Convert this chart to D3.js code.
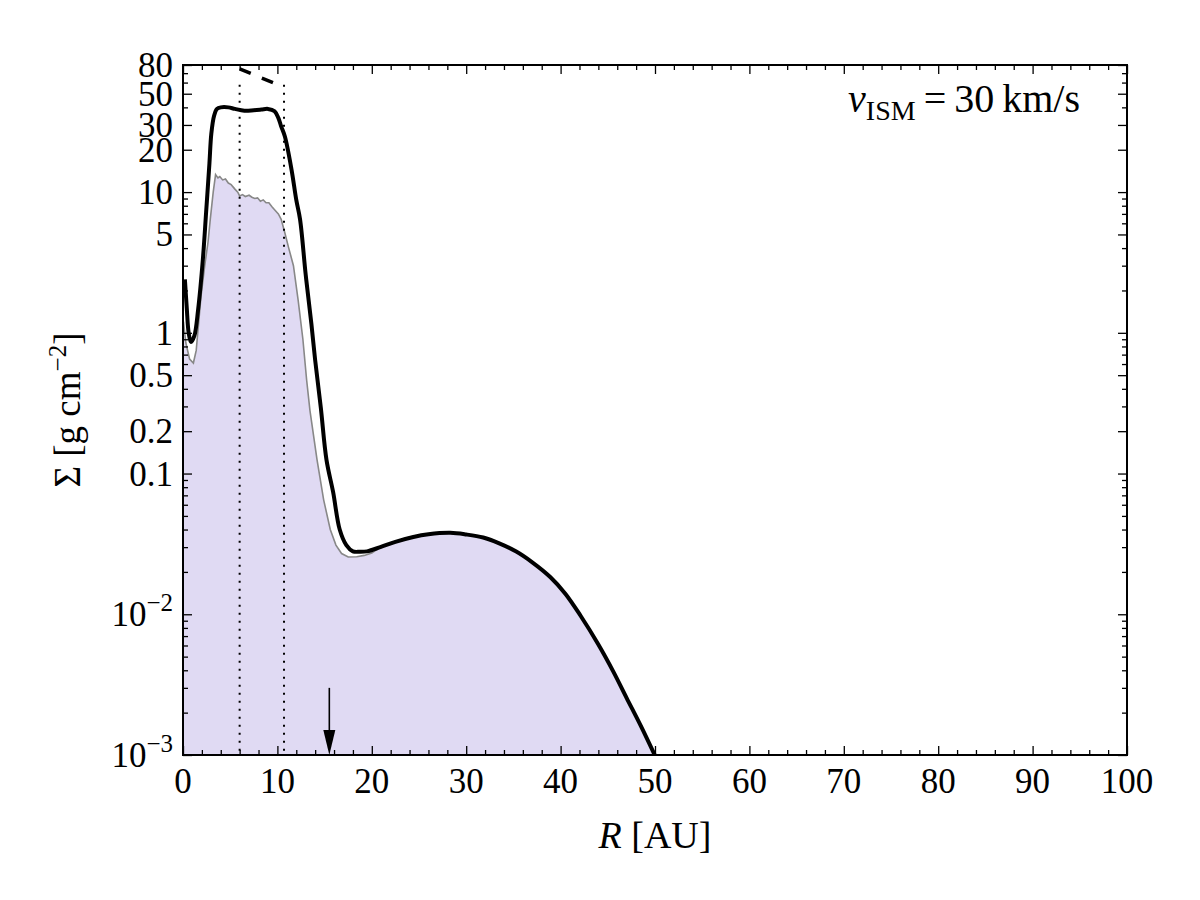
<!DOCTYPE html>
<html>
<head>
<meta charset="utf-8">
<script src="https://cdn.jsdelivr.net/npm/d3@7"></script>
<style>
  body { margin: 0; background: #fff; }
  text { font-family: "Liberation Serif", "DejaVu Serif", serif; fill: #000; }
</style>
</head>
<body>
<div id="chart"></div>
<script>
// total surface density (thick black line)
const totalR = [0.2, 0.4, 0.6, 0.85, 1.2, 1.6, 2.1, 2.45, 2.8, 3.0, 3.3, 3.6, 4.0, 4.8, 5.5, 6.5, 7.5, 8.3, 9.0, 9.7,
	10.1, 10.4, 10.8, 11.5, 12.0, 12.4, 13.0, 13.6, 14.0, 14.6, 15.2, 15.9, 16.6, 17.3, 18.0, 18.7, 19.5, 20.9,
	22.5, 24.4, 26, 28.3, 30, 31.8, 33.5, 35.3, 37, 38.9, 40.5, 42.1, 44, 45.6, 47, 48.5, 50];
const totalS = [2.4, 1.5, 1.0, 0.86, 0.95, 1.46, 3.3, 7.2, 16, 26, 35, 39, 40, 40, 39, 37.9, 38.2, 38.6, 39, 37.5,
	33.7, 29.3, 24.7, 14.4, 8.8, 6.4, 2.58, 1.16, 0.64, 0.293, 0.125, 0.074, 0.04, 0.031, 0.028, 0.0278, 0.028, 0.030,
	0.0327, 0.0354, 0.0370, 0.0379, 0.0369, 0.0351, 0.0319, 0.0279, 0.0234, 0.0184, 0.0140, 0.0098, 0.0061, 0.0039, 0.00254, 0.00161, 0.00099];

// gas component (grey outline of shaded area), inner part only
const gasR = [0.05, 0.3, 0.7, 1.1, 1.4, 1.9, 2.3, 2.65, 2.9, 3.2, 3.45, 3.7, 3.9, 4.2, 4.5, 4.8, 5.1, 5.5, 5.8, 6.0,
	6.3, 6.6, 7.0, 7.3, 7.6, 7.9, 8.2, 8.5, 8.8, 9.1, 9.4, 9.7, 10.1, 10.4, 10.8, 11.2, 11.7, 12.2, 12.7, 13.1,
	13.45, 14.2, 14.9, 15.6, 16.2, 16.8, 17.5, 18.4, 19.2, 20.0];
const gasS = [1.2, 0.85, 0.65, 0.61, 0.75, 1.8, 3.0, 4.4, 6.5, 10, 13.3, 12.6, 12.9, 12.2, 12.4, 11.6, 11.3, 10.5, 10, 9.4,
	9.6, 9.3, 9.5, 9.2, 9.0, 9.1, 8.6, 8.8, 8.4, 8.4, 7.9, 7.5, 7.0, 6.4, 5.1, 4.0, 3.0, 1.7, 0.9, 0.46,
	0.28, 0.125, 0.065, 0.04, 0.031, 0.027, 0.0255, 0.0256, 0.0262, 0.0272];

// reference power law (dashed) and markers
const dashR = [6.0, 9.8];
const dashS = [75, 59];
const dottedR = [6.0, 10.7];
const dottedTop = 58;
const arrowR = 15.5;
const arrowS = [0.003, 0.001];

const xTicks = [0, 10, 20, 30, 40, 50, 60, 70, 80, 90, 100];
const yMajor = [80, 50, 30, 20, 10, 5, 1, 0.5, 0.2, 0.1, 0.01, 0.001];
const yLabels = ["80", "50", "30", "20", "10", "5", "1", "0.5", "0.2", "0.1", "10|−2", "10|−3"];

const W = 1200, H = 900;
const pLeft = 183, pRight = 1127, pTop = 65, pBottom = 755;

const svg = d3.select("#chart").append("svg")
	.attr("width", W)
	.attr("height", H);

const x = d3.scaleLinear().domain([0, 100]).range([pLeft, pRight]);
const y = d3.scaleLog().domain([0.001, 80]).range([pBottom, pTop]);

svg.append("clipPath").attr("id", "plotclip")
	.append("rect")
	.attr("x", pLeft).attr("y", pTop)
	.attr("width", pRight - pLeft).attr("height", pBottom - pTop);

const plot = svg.append("g").attr("clip-path", "url(#plotclip)");

// shaded area: gas inner part + merged outer part
let fill = gasR.map((r, i) => [r, gasS[i]]);
totalR.forEach((r, i) => { if (r > 20.5) fill.push([r, totalS[i]]); });
fill.push([52, 0.0005]);

let area = d3.area()
	.x(d => x(d[0]))
	.y0(pBottom + 5)
	.y1(d => y(d[1]));

plot.append("path")
	.datum([[0, gasS[0]]].concat(fill))
	.attr("d", area)
	.attr("fill", "#e0daf3");

plot.append("path")
	.datum(fill)
	.attr("d", d3.line().x(d => x(d[0])).y(d => y(d[1])))
	.attr("fill", "none")
	.attr("stroke", "#888")
	.attr("stroke-width", 1.6);

// dotted vertical lines
plot.selectAll(".vdot")
	.data(dottedR)
	.join("line")
	.attr("x1", d => x(d)).attr("x2", d => x(d))
	.attr("y1", y(dottedTop)).attr("y2", pBottom)
	.attr("stroke", "#000")
	.attr("stroke-width", 2)
	.attr("stroke-dasharray", "2.2,5.8");

// total line
plot.append("path")
	.datum(totalR.map((r, i) => [r, totalS[i]]))
	.attr("d", d3.line().curve(d3.curveCatmullRom.alpha(0.5)).x(d => x(d[0])).y(d => y(d[1])))
	.attr("fill", "none")
	.attr("stroke", "#000")
	.attr("stroke-width", 4)
	.attr("stroke-linejoin", "round");

// dashed reference
plot.append("line")
	.attr("x1", x(dashR[0])).attr("y1", y(dashS[0]))
	.attr("x2", x(dashR[1])).attr("y2", y(dashS[1]))
	.attr("stroke", "#000")
	.attr("stroke-width", 3.5)
	.attr("stroke-dasharray", "12,12");

// arrow
const ax = x(arrowR), ay0 = y(arrowS[0]), ay1 = y(arrowS[1]);
svg.append("line")
	.attr("x1", ax).attr("x2", ax)
	.attr("y1", ay0).attr("y2", ay1 - 20)
	.attr("stroke", "#000")
	.attr("stroke-width", 1.6);
svg.append("path")
	.attr("d", `M${ax - 6},${ay1 - 25} L${ax + 6},${ay1 - 25} L${ax},${ay1} Z`)
	.attr("fill", "#000");

// ticks (inward, all four sides)
function minorX() {
	let t = [];
	for (let v = 0; v <= 100; v += 2) if (v % 10 != 0) t.push(v);
	return t;
}
function minorY() {
	let t = [];
	[0.001, 0.01, 0.1, 1, 10].forEach(dec => {
		for (let k = 2; k <= 9; k++) {
			let v = dec * k;
			if (v <= 80 && !yMajor.some(m => Math.abs(m - v) < 1e-9)) t.push(v);
		}
	});
	return t;
}

svg.append("g").attr("transform", `translate(0,${pBottom})`)
	.call(d3.axisBottom(x).tickValues(xTicks).tickSize(-9).tickFormat(""));
svg.append("g").attr("transform", `translate(0,${pBottom})`)
	.call(d3.axisBottom(x).tickValues(minorX()).tickSize(-5).tickFormat(""));
svg.append("g").attr("transform", `translate(0,${pTop})`)
	.call(d3.axisTop(x).tickValues(xTicks).tickSize(-9).tickFormat(""));
svg.append("g").attr("transform", `translate(0,${pTop})`)
	.call(d3.axisTop(x).tickValues(minorX()).tickSize(-5).tickFormat(""));

svg.append("g").attr("transform", `translate(${pLeft},0)`)
	.call(d3.axisLeft(y).tickValues(yMajor).tickSize(-9).tickFormat(""));
svg.append("g").attr("transform", `translate(${pLeft},0)`)
	.call(d3.axisLeft(y).tickValues(minorY()).tickSize(-5).tickFormat(""));
svg.append("g").attr("transform", `translate(${pRight},0)`)
	.call(d3.axisRight(y).tickValues(yMajor).tickSize(-9).tickFormat(""));
svg.append("g").attr("transform", `translate(${pRight},0)`)
	.call(d3.axisRight(y).tickValues(minorY()).tickSize(-5).tickFormat(""));

svg.selectAll(".domain").remove();
svg.selectAll(".tick line").attr("stroke", "#000").attr("stroke-width", 1.3);

// frame
svg.append("rect")
	.attr("x", pLeft).attr("y", pTop)
	.attr("width", pRight - pLeft).attr("height", pBottom - pTop)
	.attr("fill", "none")
	.attr("stroke", "#000")
	.attr("stroke-width", 2);

// tick labels
svg.append("g").selectAll("text")
	.data(xTicks)
	.join("text")
	.attr("x", d => x(d))
	.attr("y", pBottom + 38)
	.attr("text-anchor", "middle")
	.attr("font-size", 35)
	.text(d => d);

let yl = svg.append("g").selectAll("text")
	.data(yMajor)
	.join("text")
	.attr("x", pLeft - 10)
	.attr("y", d => y(d) + 12)
	.attr("text-anchor", "end")
	.attr("font-size", 35);
yl.each(function (d, i) {
	let parts = yLabels[i].split("|");
	let t = d3.select(this);
	t.append("tspan").text(parts[0]);
	if (parts[1]) {
		t.append("tspan").attr("dy", -15).attr("font-size", 25).text(parts[1]);
	}
});

// axis titles
let xt = svg.append("text")
	.attr("x", 655).attr("y", 848)
	.attr("text-anchor", "middle")
	.attr("font-size", 38);
xt.append("tspan").attr("font-style", "italic").text("R");
xt.append("tspan").text(" [AU]");

let yt = svg.append("text")
	.attr("transform", "translate(80,410) rotate(-90)")
	.attr("text-anchor", "middle")
	.attr("font-size", 37);
yt.append("tspan").text("Σ [g cm");
yt.append("tspan").attr("dy", -14).attr("font-size", 25).text("−2");
yt.append("tspan").attr("dy", 14).text("]");

// annotation
let ann = svg.append("text")
	.attr("x", 1080).attr("y", 112)
	.attr("text-anchor", "end")
	.attr("font-size", 40);
ann.append("tspan").attr("font-style", "italic").text("v");
ann.append("tspan").attr("dy", 8).attr("font-size", 28).text("ISM");
ann.append("tspan").attr("dy", -8).text("\u2009=\u200930\u2009km/s");
</script>
</body>
</html>
